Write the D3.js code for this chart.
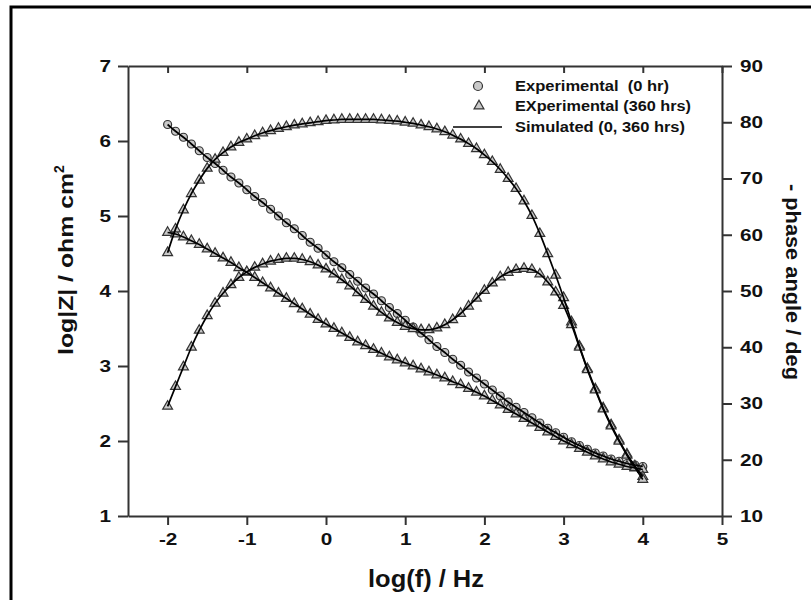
<!DOCTYPE html>
<html>
<head>
<meta charset="utf-8">
<script src="https://cdn.jsdelivr.net/npm/d3@7"></script>
<style>
  html, body { margin: 0; padding: 0; background: #fff; }
  svg { display: block; font-family: "Liberation Sans", Arial, sans-serif; }
  .tick text { font-weight: bold; font-size: 17px; fill: #111; }
  .domain, .tick line { stroke: #333; stroke-width: 2px; }
</style>
</head>
<body>
<svg id="chart" width="811" height="600"></svg>
<script>
// log(f) of every measured point, one every 0.1 decade
const logF = [
  -2.0, -1.9, -1.8, -1.7, -1.6, -1.5, -1.4, -1.3, -1.2, -1.1,
  -1.0, -0.9, -0.8, -0.7, -0.6, -0.5, -0.4, -0.3, -0.2, -0.1,
   0.0,  0.1,  0.2,  0.3,  0.4,  0.5,  0.6,  0.7,  0.8,  0.9,
   1.0,  1.1,  1.2,  1.3,  1.4,  1.5,  1.6,  1.7,  1.8,  1.9,
   2.0,  2.1,  2.2,  2.3,  2.4,  2.5,  2.6,  2.7,  2.8,  2.9,
   3.0,  3.1,  3.2,  3.3,  3.4,  3.5,  3.6,  3.7,  3.8,  3.9,
   4.0
];

// log|Z| at 0 hr
const logZ0 = [
  6.22, 6.13, 6.05, 5.96, 5.87, 5.78, 5.70, 5.61, 5.52, 5.44,
  5.35, 5.26, 5.18, 5.09, 5.00, 4.91, 4.83, 4.74, 4.65, 4.57,
  4.48, 4.39, 4.31, 4.22, 4.13, 4.04, 3.96, 3.87, 3.78, 3.70,
  3.61, 3.52, 3.44, 3.35, 3.26, 3.18, 3.09, 3.01, 2.92, 2.84,
  2.76, 2.68, 2.60, 2.52, 2.45, 2.38, 2.31, 2.24, 2.17, 2.11,
  2.05, 1.99, 1.94, 1.89, 1.84, 1.80, 1.76, 1.73, 1.70, 1.68,
  1.66
];

// log|Z| at 360 hrs
const logZ360 = [
  4.78, 4.76, 4.72, 4.67, 4.62, 4.56, 4.50, 4.44, 4.38, 4.31,
  4.25, 4.18, 4.11, 4.04, 3.97, 3.90, 3.83, 3.76, 3.69, 3.62,
  3.56, 3.50, 3.44, 3.38, 3.32, 3.27, 3.22, 3.17, 3.12, 3.08,
  3.04, 3.00, 2.96, 2.92, 2.88, 2.84, 2.79, 2.75, 2.70, 2.65,
  2.60, 2.54, 2.48, 2.42, 2.36, 2.30, 2.24, 2.18, 2.12, 2.06,
  2.00, 1.95, 1.90, 1.85, 1.80, 1.76, 1.72, 1.69, 1.66, 1.64,
  1.62
];

// -phase (deg), single broad time constant
const phaseA = [
  56.8, 61.0, 64.4, 67.3, 69.7, 71.8, 73.4, 74.6, 75.6, 76.4,
  77.0, 77.6, 78.1, 78.5, 78.9, 79.2, 79.5, 79.7, 79.9, 80.1,
  80.3, 80.4, 80.5, 80.5, 80.5, 80.5, 80.5, 80.4, 80.3, 80.2,
  80.0, 79.8, 79.5, 79.2, 78.8, 78.3, 77.7, 77.0, 76.2, 75.3,
  74.2, 73.0, 71.6, 70.0, 68.2, 66.0, 63.4, 60.2, 56.6, 52.8,
  48.8, 44.5, 40.2, 36.2, 32.6, 29.2, 26.2, 23.5, 21.0, 18.9,
  17.0
];

// -phase (deg), two time constants
const phaseB = [
  29.5, 33.0, 36.5, 40.0, 43.0, 45.6, 47.8, 49.6, 51.1, 52.4,
  53.4, 54.2, 54.8, 55.3, 55.6, 55.8, 55.8, 55.6, 55.2, 54.6,
  53.9, 53.0, 52.0, 50.9, 49.7, 48.5, 47.3, 46.2, 45.2, 44.4,
  43.7, 43.3, 43.1, 43.1, 43.4, 44.0, 44.9, 46.0, 47.3, 48.7,
  50.1, 51.4, 52.5, 53.3, 53.8, 54.0, 53.8, 53.0, 51.6, 49.8,
  47.4, 44.0, 40.0, 36.0, 32.4, 29.0, 26.0, 23.3, 20.8, 18.6,
  16.5
];

const xTicks = [-2, -1, 0, 1, 2, 3, 4, 5];
const zTicks = [1, 2, 3, 4, 5, 6, 7];
const phaseTicks = [10, 20, 30, 40, 50, 60, 70, 80, 90];

const svg = d3.select("#chart");

// frame around the figure (left and top edges fall inside the view)
svg.append("path")
  .attr("d", "M11,600 L11,7 L811,7")
  .attr("fill", "none").attr("stroke", "#000").attr("stroke-width", 3);

const plotL = 128, plotR = 722, plotT = 66, plotB = 516;

const x = d3.scaleLinear().domain([-2.5, 5]).range([plotL, plotR]);
const yZ = d3.scaleLinear().domain([1, 7]).range([plotB, plotT]);
const yP = d3.scaleLinear().domain([10, 90]).range([plotB, plotT]);

// plain hyphen for negative tick labels
const fmt = d => String(d);
const wide = 1.22; // tick labels are set in a wide face

function widen(sel, xShift) {
  sel.selectAll(".tick text")
    .attr("font-family", null).attr("font-size", null)
    .attr("x", xShift / wide)
    .attr("transform", `scale(${wide},1)`);
}

svg.append("g").attr("transform", `translate(0,${plotB})`)
  .call(d3.axisBottom(x).tickValues(xTicks).tickSize(9).tickSizeOuter(0).tickPadding(8).tickFormat(fmt))
  .call(widen, 0);
svg.append("g").attr("transform", `translate(0,${plotT})`)
  .call(d3.axisTop(x).tickValues(xTicks).tickSize(-7).tickSizeOuter(0).tickFormat(""));
svg.append("g").attr("transform", `translate(${plotL},0)`)
  .call(d3.axisLeft(yZ).tickValues(zTicks).tickSize(10).tickSizeOuter(0).tickPadding(7).tickFormat(fmt))
  .call(widen, -17);
svg.append("g").attr("transform", `translate(${plotR},0)`)
  .call(d3.axisRight(yP).tickValues(phaseTicks).tickSize(10).tickSizeOuter(0).tickPadding(8).tickFormat(fmt))
  .call(widen, 18);

// axis titles
svg.append("text")
  .attr("x", 426).attr("y", 587)
  .attr("text-anchor", "middle")
  .attr("font-size", 24).attr("font-weight", "bold").attr("fill", "#111")
  .attr("textLength", 116).attr("lengthAdjust", "spacingAndGlyphs")
  .text("log(f) / Hz");

const lt = svg.append("text")
  .attr("transform", "translate(73,355) rotate(-90)")
  .attr("font-size", 20).attr("font-weight", "bold").attr("fill", "#111");
lt.append("tspan").attr("textLength", 182).attr("lengthAdjust", "spacingAndGlyphs").text("log|Z| / ohm cm");
lt.append("tspan").attr("dy", -9).attr("font-size", 14).text("2");

svg.append("text")
  .attr("transform", "translate(786,282) rotate(90)")
  .attr("text-anchor", "middle")
  .attr("font-size", 20).attr("font-weight", "bold").attr("fill", "#111")
  .attr("textLength", 196).attr("lengthAdjust", "spacingAndGlyphs")
  .text("- phase angle / deg");

// data series
const series = [
  { vals: logZ0,   y: yZ, marker: "circle" },
  { vals: logZ360, y: yZ, marker: "triangle" },
  { vals: phaseA,  y: yP, marker: "triangle" },
  { vals: phaseB,  y: yP, marker: "triangle" }
];

const tri = d3.symbol().type(d3.symbolTriangle).size(42);
const markFill = "#c9c9c9", markStroke = "#333";

const plot = svg.append("g");
series.forEach(s => {
  const pts = logF.map((f, i) => [f, s.vals[i]]);
  const g = plot.append("g");
  if (s.marker === "circle") {
    g.selectAll("circle").data(pts).join("circle")
      .attr("cx", d => x(d[0])).attr("cy", d => s.y(d[1])).attr("r", 4)
      .attr("fill", markFill).attr("stroke", markStroke).attr("stroke-width", 1.2);
  } else {
    g.selectAll("path").data(pts).join("path")
      .attr("d", tri)
      .attr("transform", d => `translate(${x(d[0])},${s.y(d[1])})`)
      .attr("fill", markFill).attr("stroke", markStroke).attr("stroke-width", 1.2);
  }
});

// simulated curves through the same values
series.forEach(s => {
  const line = d3.line().x(f => x(f)).y((f, i) => s.y(s.vals[i])).curve(d3.curveMonotoneX);
  plot.append("path").attr("d", line(logF))
    .attr("fill", "none").attr("stroke", "#000").attr("stroke-width", 1.7);
});

// legend
const lg = svg.append("g").attr("font-size", 14).attr("font-weight", "bold").attr("fill", "#111");
lg.append("circle").attr("cx", 478).attr("cy", 86).attr("r", 4.5)
  .attr("fill", markFill).attr("stroke", markStroke).attr("stroke-width", 1.2);
lg.append("text").attr("x", 515).attr("y", 91)
  .attr("textLength", 154).attr("lengthAdjust", "spacingAndGlyphs")
  .style("white-space", "pre").text("Experimental  (0 hr)");
lg.append("path").attr("d", tri).attr("transform", "translate(479,106)")
  .attr("fill", markFill).attr("stroke", markStroke).attr("stroke-width", 1.2);
lg.append("text").attr("x", 515).attr("y", 111)
  .attr("textLength", 176).attr("lengthAdjust", "spacingAndGlyphs")
  .text("EXperimental (360 hrs)");
lg.append("line").attr("x1", 453).attr("x2", 502).attr("y1", 127).attr("y2", 127)
  .attr("stroke", "#000").attr("stroke-width", 1.7);
lg.append("text").attr("x", 515).attr("y", 132)
  .attr("textLength", 170).attr("lengthAdjust", "spacingAndGlyphs")
  .text("Simulated (0, 360 hrs)");
</script>
</body>
</html>
